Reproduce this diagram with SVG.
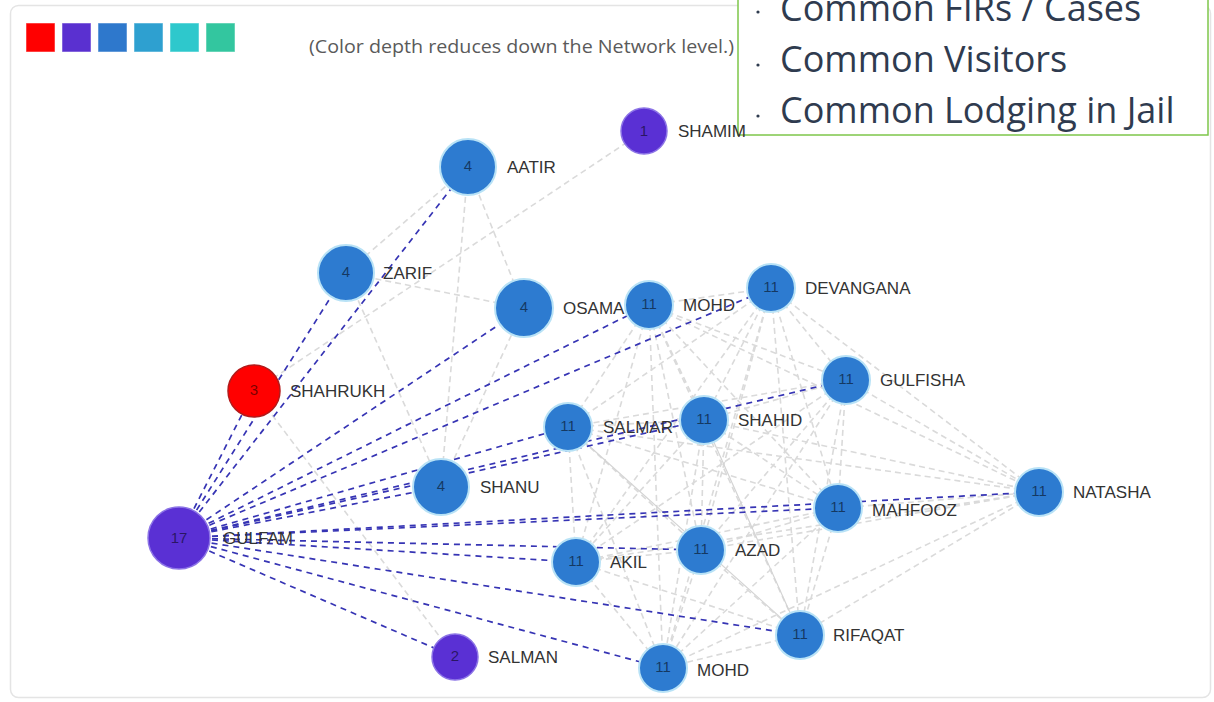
<svg xmlns="http://www.w3.org/2000/svg" width="1214" height="702" viewBox="0 0 1214 702">
  <style>
    .frame { fill: #ffffff; stroke: #e4e4e4; stroke-width: 1.5; }
    .sw { stroke: #ffffff; stroke-opacity: 0.5; stroke-width: 1; }
    .hint { font-family: "Open Sans", "Liberation Sans", sans-serif; font-size: 19px; fill: #5a5a5a; }
    .e { stroke: #dadada; stroke-width: 1.6; stroke-dasharray: 6 4; fill: none; }
    .es { stroke: #d4d4d4; stroke-width: 1.2; fill: none; }
    .g { stroke: #3634b4; stroke-width: 1.7; stroke-dasharray: 6 5; fill: none; }
    .blue { fill: #2d7bd0; stroke: #b8e2f6; stroke-width: 2; }
    .purple { fill: #5a30d4; stroke: #8c74e6; stroke-width: 1.5; }
    .red { fill: #ff0000; stroke: #b31a1a; stroke-width: 1.5; }
    .num { font-family: "Liberation Sans", Arial, sans-serif; font-size: 15px; fill: #000000; fill-opacity: 0.55; text-anchor: middle; dominant-baseline: central; }
    .lbl { font-family: "Liberation Sans", Arial, sans-serif; font-size: 17px; fill: #333333; }
    .note { fill: #ffffff; stroke: #7ec64a; stroke-width: 1.5; }
    .bul { font-family: "Open Sans", "Liberation Sans", sans-serif; font-size: 36px; fill: #2f3b4f; }
    .dot { fill: #2f3b4f; }
  </style>

  <!-- panel -->
  <rect class="frame" x="10.5" y="5.5" width="1200" height="692" rx="8"/>

  <!-- colour scale -->
  <g id="legend">
    <rect class="sw" x="26" y="23" width="29" height="29" fill="#ff0000"/>
    <rect class="sw" x="62" y="23" width="29" height="29" fill="#5a30d0"/>
    <rect class="sw" x="98" y="23" width="29" height="29" fill="#2e78cc"/>
    <rect class="sw" x="134" y="23" width="29" height="29" fill="#2ea0d0"/>
    <rect class="sw" x="170" y="23" width="29" height="29" fill="#2ec8cc"/>
    <rect class="sw" x="206" y="23" width="29" height="29" fill="#33c69f"/>
    <text class="hint" x="309" y="53" textLength="425" lengthAdjust="spacingAndGlyphs">(Color depth reduces down the Network level.)</text>
  </g>

  <g id="connectors">
    <!-- small groups -->
    <line class="e" x1="644" y1="131" x2="254" y2="391"/>
    <line class="e" x1="254" y1="391" x2="455" y2="657"/>
    <line class="e" x1="468" y1="167" x2="346" y2="273"/>
    <line class="e" x1="468" y1="167" x2="524" y2="308"/>
    <line class="e" x1="468" y1="167" x2="441" y2="487"/>
    <line class="e" x1="346" y1="273" x2="524" y2="308"/>
    <line class="e" x1="346" y1="273" x2="441" y2="487"/>
    <line class="e" x1="524" y1="308" x2="441" y2="487"/>

    <!-- cluster of eleven, fully linked -->
    <line class="e" x1="649" y1="305" x2="771" y2="288"/>
    <line class="e" x1="649" y1="305" x2="846" y2="380"/>
    <line class="e" x1="649" y1="305" x2="704" y2="420"/>
    <line class="e" x1="649" y1="305" x2="568" y2="427"/>
    <line class="e" x1="649" y1="305" x2="838" y2="508"/>
    <line class="e" x1="649" y1="305" x2="1039" y2="492"/>
    <line class="e" x1="649" y1="305" x2="576" y2="562"/>
    <line class="e" x1="649" y1="305" x2="701" y2="550"/>
    <line class="e" x1="649" y1="305" x2="800" y2="635"/>
    <line class="e" x1="649" y1="305" x2="663" y2="668"/>

    <line class="e" x1="771" y1="288" x2="846" y2="380"/>
    <line class="e" x1="771" y1="288" x2="704" y2="420"/>
    <line class="e" x1="771" y1="288" x2="568" y2="427"/>
    <line class="e" x1="771" y1="288" x2="838" y2="508"/>
    <line class="e" x1="771" y1="288" x2="1039" y2="492"/>
    <line class="e" x1="771" y1="288" x2="576" y2="562"/>
    <line class="e" x1="771" y1="288" x2="701" y2="550"/>
    <line class="e" x1="771" y1="288" x2="800" y2="635"/>
    <line class="e" x1="771" y1="288" x2="663" y2="668"/>

    <line class="e" x1="846" y1="380" x2="704" y2="420"/>
    <line class="e" x1="846" y1="380" x2="568" y2="427"/>
    <line class="e" x1="846" y1="380" x2="838" y2="508"/>
    <line class="e" x1="846" y1="380" x2="1039" y2="492"/>
    <line class="e" x1="846" y1="380" x2="576" y2="562"/>
    <line class="e" x1="846" y1="380" x2="701" y2="550"/>
    <line class="e" x1="846" y1="380" x2="800" y2="635"/>
    <line class="e" x1="846" y1="380" x2="663" y2="668"/>

    <line class="e" x1="704" y1="420" x2="568" y2="427"/>
    <line class="e" x1="704" y1="420" x2="838" y2="508"/>
    <line class="e" x1="704" y1="420" x2="1039" y2="492"/>
    <line class="e" x1="704" y1="420" x2="576" y2="562"/>
    <line class="e" x1="704" y1="420" x2="701" y2="550"/>
    <line class="es" x1="704" y1="420" x2="800" y2="635"/>
    <line class="e" x1="704" y1="420" x2="663" y2="668"/>

    <line class="e" x1="568" y1="427" x2="838" y2="508"/>
    <line class="e" x1="568" y1="427" x2="1039" y2="492"/>
    <line class="e" x1="568" y1="427" x2="576" y2="562"/>
    <line class="e" x1="568" y1="427" x2="701" y2="550"/>
    <line class="es" x1="568" y1="427" x2="800" y2="635"/>
    <line class="e" x1="568" y1="427" x2="663" y2="668"/>

    <line class="e" x1="838" y1="508" x2="1039" y2="492"/>
    <line class="e" x1="838" y1="508" x2="576" y2="562"/>
    <line class="e" x1="838" y1="508" x2="701" y2="550"/>
    <line class="e" x1="838" y1="508" x2="800" y2="635"/>
    <line class="e" x1="838" y1="508" x2="663" y2="668"/>

    <line class="e" x1="1039" y1="492" x2="576" y2="562"/>
    <line class="e" x1="1039" y1="492" x2="701" y2="550"/>
    <line class="e" x1="1039" y1="492" x2="800" y2="635"/>
    <line class="e" x1="1039" y1="492" x2="663" y2="668"/>

    <line class="e" x1="576" y1="562" x2="701" y2="550"/>
    <line class="e" x1="576" y1="562" x2="800" y2="635"/>
    <line class="e" x1="576" y1="562" x2="663" y2="668"/>

    <line class="e" x1="701" y1="550" x2="800" y2="635"/>
    <line class="e" x1="701" y1="550" x2="663" y2="668"/>

    <line class="e" x1="800" y1="635" x2="663" y2="668"/>

    <!-- links of the hub -->
    <line class="g" x1="179" y1="538" x2="468" y2="167"/>
    <line class="g" x1="179" y1="538" x2="346" y2="273"/>
    <line class="g" x1="179" y1="538" x2="254" y2="391"/>
    <line class="g" x1="179" y1="538" x2="524" y2="308"/>
    <line class="g" x1="179" y1="538" x2="649" y2="305"/>
    <line class="g" x1="179" y1="538" x2="771" y2="288"/>
    <line class="g" x1="179" y1="538" x2="846" y2="380"/>
    <line class="g" x1="179" y1="538" x2="704" y2="420"/>
    <line class="g" x1="179" y1="538" x2="568" y2="427"/>
    <line class="g" x1="179" y1="538" x2="441" y2="487"/>
    <line class="g" x1="179" y1="538" x2="1039" y2="492"/>
    <line class="g" x1="179" y1="538" x2="838" y2="508"/>
    <line class="g" x1="179" y1="538" x2="701" y2="550"/>
    <line class="g" x1="179" y1="538" x2="576" y2="562"/>
    <line class="g" x1="179" y1="538" x2="800" y2="635"/>
    <line class="g" x1="179" y1="538" x2="663" y2="668"/>
    <line class="g" x1="179" y1="538" x2="455" y2="657"/>
  </g>

  <!-- bullet box -->
  <g id="note">
    <rect class="note" x="738" y="-10" width="470" height="145"/>
    <circle class="dot" cx="758" cy="12" r="1.6"/>
    <circle class="dot" cx="758" cy="65" r="1.6"/>
    <circle class="dot" cx="758" cy="116" r="1.6"/>
    <text class="bul" x="780" y="21">Common FIRs / Cases</text>
    <text class="bul" x="780" y="72">Common Visitors</text>
    <text class="bul" x="780" y="123">Common Lodging in Jail</text>
  </g>

  <!-- nodes -->
  <g id="node-shamim"><circle class="purple" cx="644" cy="131" r="23"/><text class="num" x="644" y="130">1</text><text class="lbl" x="678" y="137">SHAMIM</text></g>
  <g id="node-aatir"><circle class="blue" cx="468" cy="167" r="28"/><text class="num" x="468" y="165">4</text><text class="lbl" x="507" y="173">AATIR</text></g>
  <g id="node-zarif"><circle class="blue" cx="346" cy="273" r="28"/><text class="num" x="346" y="271">4</text><text class="lbl" x="383" y="279">ZARIF</text></g>
  <g id="node-osama"><circle class="blue" cx="524" cy="308" r="29"/><text class="num" x="524" y="306">4</text><text class="lbl" x="563" y="314">OSAMA</text></g>
  <g id="node-mohd-1"><circle class="blue" cx="649" cy="305" r="24"/><text class="num" x="649" y="303">11</text><text class="lbl" x="683" y="311">MOHD</text></g>
  <g id="node-devangana"><circle class="blue" cx="771" cy="288" r="24"/><text class="num" x="771" y="286">11</text><text class="lbl" x="805" y="294">DEVANGANA</text></g>
  <g id="node-shahrukh"><circle class="red" cx="254" cy="391" r="26"/><text class="num" x="254" y="389">3</text><text class="lbl" x="290" y="397">SHAHRUKH</text></g>
  <g id="node-gulfisha"><circle class="blue" cx="846" cy="380" r="24"/><text class="num" x="846" y="378">11</text><text class="lbl" x="880" y="386">GULFISHA</text></g>
  <g id="node-shahid"><circle class="blue" cx="704" cy="420" r="24"/><text class="num" x="704" y="418">11</text><text class="lbl" x="738" y="426">SHAHID</text></g>
  <g id="node-salmar"><circle class="blue" cx="568" cy="427" r="24"/><text class="num" x="568" y="425">11</text><text class="lbl" x="603" y="433">SALMAR</text></g>
  <g id="node-shanu"><circle class="blue" cx="441" cy="487" r="28"/><text class="num" x="441" y="485">4</text><text class="lbl" x="480" y="493">SHANU</text></g>
  <g id="node-natasha"><circle class="blue" cx="1039" cy="492" r="24"/><text class="num" x="1039" y="490">11</text><text class="lbl" x="1073" y="498">NATASHA</text></g>
  <g id="node-mahfooz"><circle class="blue" cx="838" cy="508" r="24"/><text class="num" x="838" y="506">11</text><text class="lbl" x="872" y="516">MAHFOOZ</text></g>
  <g id="node-gulfam"><circle class="purple" cx="179" cy="538" r="31"/><text class="num" x="179" y="537">17</text><text class="lbl" x="223" y="544">GULFAM</text></g>
  <g id="node-azad"><circle class="blue" cx="701" cy="550" r="24"/><text class="num" x="701" y="548">11</text><text class="lbl" x="735" y="556">AZAD</text></g>
  <g id="node-akil"><circle class="blue" cx="576" cy="562" r="24"/><text class="num" x="576" y="560">11</text><text class="lbl" x="610" y="568">AKIL</text></g>
  <g id="node-rifaqat"><circle class="blue" cx="800" cy="635" r="24"/><text class="num" x="800" y="633">11</text><text class="lbl" x="833" y="641">RIFAQAT</text></g>
  <g id="node-salman"><circle class="purple" cx="455" cy="657" r="23"/><text class="num" x="455" y="655">2</text><text class="lbl" x="488" y="663">SALMAN</text></g>
  <g id="node-mohd-2"><circle class="blue" cx="663" cy="668" r="24"/><text class="num" x="663" y="666">11</text><text class="lbl" x="697" y="676">MOHD</text></g>
</svg>
